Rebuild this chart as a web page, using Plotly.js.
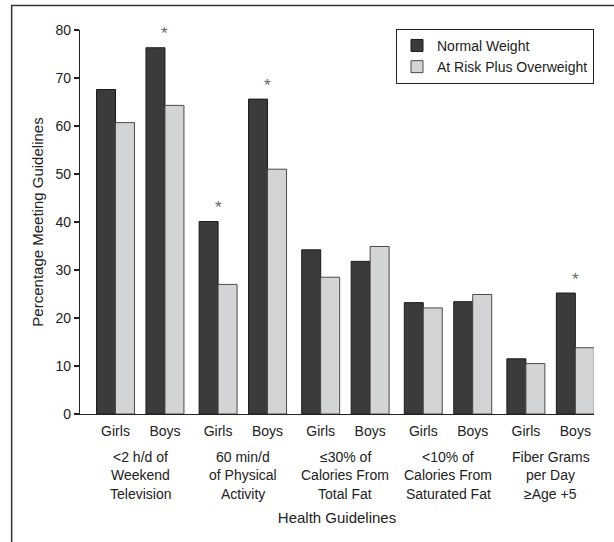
<!DOCTYPE html>
<html>
<head>
<meta charset="utf-8">
<script src="https://cdn.plot.ly/plotly-3.0.1.min.js"></script>
<style>html,body{margin:0;padding:0;background:#fff;}#chart{width:614px;height:542px;}</style>
</head>
<body>
<div id="chart"></div>
<script>
// ---- data ----
const groupLabels = [
  ["&lt;2 h/d of", "Weekend", "Television"],
  ["60 min/d", "of Physical", "Activity"],
  ["≤30% of", "Calories From", "Total Fat"],
  ["&lt;10% of", "Calories From", "Saturated Fat"],
  ["Fiber Grams", "per Day", "≥Age +5"]
];
const sexLabels = ["Girls", "Boys"];
// values ordered: group1 Girls, group1 Boys, group2 Girls, ...
const normalWeight = [67.6, 76.3, 40.1, 65.6, 34.2, 31.8, 23.2, 23.4, 11.5, 25.2];
const atRiskOverweight = [60.7, 64.3, 27.0, 51.0, 28.5, 34.9, 22.1, 24.9, 10.5, 13.8];
const significant = [false, true, true, true, false, false, false, false, false, true];
const seriesNames = ["Normal Weight", "At Risk Plus Overweight"];

// ---- layout helpers ----
const half = 0.241;      // distance of subgroup centre from group centre
const barW = 0.185;      // width of a single bar
const xPos = normalWeight.map((_, i) => Math.floor(i / 2) + (i % 2 === 0 ? -half : half));
const tickText = normalWeight.map((_, i) => sexLabels[i % 2]);

const FONT = "'Liberation Sans', Arial, sans-serif";

const traces = [
  {
    type: "bar", name: seriesNames[0], x: xPos, y: normalWeight,
    width: barW, offset: -barW,
    marker: {color: "#3b3b3b", line: {color: "#1a1a1a", width: 1}},
    hoverinfo: "y"
  },
  {
    type: "bar", name: seriesNames[1], x: xPos, y: atRiskOverweight,
    width: barW, offset: 0,
    marker: {color: "#d3d4d5", line: {color: "#4a4a4a", width: 1}},
    hoverinfo: "y"
  }
];

const annotations = [];
// group labels (one annotation per line for tight line spacing)
groupLabels.forEach((lines, g) => {
  lines.forEach((ln, k) => {
    annotations.push({
      x: g, xref: "x", y: 0, yref: "paper", yanchor: "middle",
      yshift: -(42.5 + 18.5 * k),
      text: ln, showarrow: false,
      font: {family: FONT, size: 14, color: "#222"}
    });
  });
});
// significance asterisks
significant.forEach((s, i) => {
  if (!s) return;
  annotations.push({
    x: xPos[i], xref: "x", y: normalWeight[i], yref: "y",
    yanchor: "middle", yshift: 14,
    text: "*", showarrow: false,
    font: {family: FONT, size: 17, color: "#666666"}
  });
});

const layout = {
  width: 614, height: 542,
  margin: {l: 80, r: 19.5, t: 30, b: 128},
  paper_bgcolor: "#fff", plot_bgcolor: "#fff",
  font: {family: FONT, size: 14, color: "#222"},
  barmode: "overlay",
  showlegend: true,
  legend: {
    x: 1, xanchor: "right", y: 1.003, yanchor: "top",
    bordercolor: "#222", borderwidth: 1, bgcolor: "#fff",
    font: {family: FONT, size: 14, color: "#222"},
    traceorder: "normal"
  },
  xaxis: {
    range: [-0.587, 4.423],
    tickvals: xPos, ticktext: tickText,
    ticks: "", ticklabelstandoff: 4, showgrid: false, zeroline: false,
    showline: true, linecolor: "#222", linewidth: 1.2,
    tickfont: {family: FONT, size: 14, color: "#222"},
    title: {text: "Health Guidelines", font: {family: FONT, size: 15, color: "#222"}, standoff: 74},
    fixedrange: true
  },
  yaxis: {
    range: [0, 80], dtick: 10,
    ticks: "outside", ticklen: 5, tickcolor: "#222", tickwidth: 1.2,
    showgrid: false, zeroline: false,
    showline: true, linecolor: "#222", linewidth: 1.2,
    tickfont: {family: FONT, size: 14, color: "#222"},
    title: {text: "Percentage Meeting Guidelines", font: {family: FONT, size: 15, color: "#222"}, standoff: 8},
    fixedrange: true
  },
  shapes: [{
    type: "rect", xref: "paper", yref: "paper",
    x0: -0.133, x1: 1.1, y0: -0.4, y1: 1.0638,
    line: {color: "#333", width: 1.5}, fillcolor: "rgba(0,0,0,0)", layer: "below"
  }],
  annotations: annotations
};

Plotly.newPlot("chart", traces, layout, {displayModeBar: false, staticPlot: true});
</script>
</body>
</html>
